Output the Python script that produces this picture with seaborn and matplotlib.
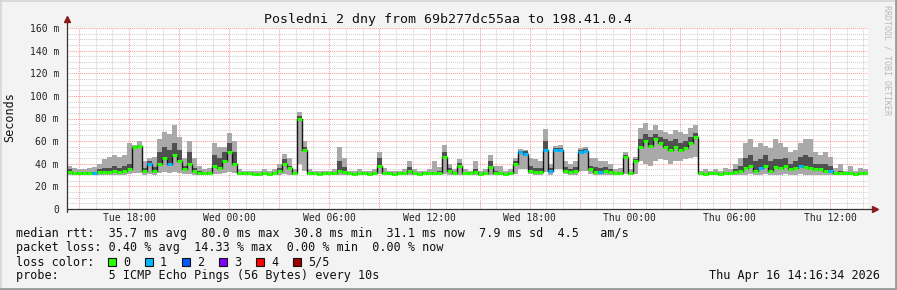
import numpy as np
import pandas as pd
import matplotlib
matplotlib.use("Agg")
import matplotlib.pyplot as plt
import matplotlib.dates as mdates
from matplotlib.ticker import MultipleLocator, FuncFormatter
from matplotlib.lines import Line2D
from matplotlib.patches import Rectangle
import seaborn as sns

# ---------------- data ----------------
title = "Posledni 2 dny from 69b277dc55aa to 198.41.0.4"
period_start = "2026-04-14 14:16:34"
period_end = "2026-04-16 14:16:34"

median_ms = [
    33, 32, 32, 32, 32, 32, 33, 33, 33, 34,
    33, 34, 35, 55, 56, 34, 40, 34, 40, 45,
    40, 48, 42, 35, 40, 34, 32, 32, 32, 38,
    36, 42, 50, 40, 32, 32, 32, 31, 31, 32,
    31, 32, 34, 40, 36, 32, 80, 52, 32, 32,
    31, 32, 32, 32, 34, 33, 32, 31, 32, 32,
    31, 32, 38, 32, 32, 31, 32, 32, 34, 32,
    31, 32, 32, 32, 32, 46, 34, 32, 38, 32,
    32, 33, 31, 32, 37, 32, 32, 31, 32, 40,
    50, 49, 34, 33, 33, 52, 34, 52, 52, 34,
    33, 34, 50, 51, 35, 33, 33, 34, 33, 32,
    32, 46, 32, 42, 55, 60, 56, 62, 58, 55,
    52, 55, 52, 54, 58, 64, 32, 31, 32, 32,
    31, 32, 32, 33, 34, 36, 38, 34, 36, 38,
    34, 37, 36, 38, 35, 36, 38, 37, 36, 35,
    35, 34, 34, 32, 32, 32, 32, 31, 32, 32,
]
smoke_dark_top = [
    35, 33, 33, 33, 33, 33, 35, 36, 36, 38,
    36, 38, 40, 55, 56, 36, 42, 37, 50, 55,
    52, 58, 52, 38, 50, 36, 34, 33, 33, 48,
    45, 50, 58, 50, 33, 33, 33, 32, 32, 33,
    32, 33, 36, 44, 38, 33, 82, 55, 33, 33,
    32, 33, 33, 33, 42, 37, 33, 32, 33, 33,
    32, 33, 45, 33, 33, 32, 33, 33, 37, 33,
    32, 33, 33, 33, 34, 50, 36, 33, 41, 33,
    33, 35, 32, 33, 42, 34, 33, 32, 33, 42,
    51, 51, 38, 36, 36, 60, 36, 54, 54, 37,
    35, 37, 52, 53, 38, 37, 36, 37, 35, 33,
    33, 48, 33, 44, 62, 66, 64, 66, 64, 62,
    60, 62, 58, 60, 64, 67, 33, 32, 33, 33,
    32, 33, 33, 35, 38, 45, 48, 42, 44, 48,
    42, 44, 44, 45, 40, 42, 46, 48, 46, 40,
    40, 40, 38, 33, 34, 33, 33, 32, 33, 33,
]
smoke_top = [
    38, 36, 35, 35, 36, 37, 40, 44, 46, 48,
    46, 48, 58, 57, 60, 42, 45, 46, 62, 68,
    66, 74, 64, 45, 60, 45, 38, 35, 36, 58,
    55, 55, 67, 60, 35, 34, 34, 34, 34, 35,
    34, 35, 40, 49, 45, 35, 86, 60, 35, 34,
    34, 34, 34, 35, 55, 45, 34, 34, 35, 34,
    34, 35, 50, 36, 34, 34, 34, 35, 42, 35,
    34, 34, 35, 42, 37, 57, 40, 35, 44, 35,
    34, 42, 34, 35, 48, 38, 38, 34, 35, 45,
    53, 52, 45, 44, 42, 71, 40, 56, 57, 42,
    40, 42, 54, 55, 45, 45, 42, 42, 40, 35,
    36, 50, 35, 46, 72, 76, 70, 74, 70, 68,
    66, 70, 68, 66, 72, 74, 34, 35, 34, 35,
    34, 36, 35, 40, 45, 58, 62, 55, 58, 56,
    54, 62, 58, 55, 50, 52, 58, 62, 62, 50,
    48, 50, 46, 36, 40, 34, 38, 34, 36, 35,
]
smoke_bottom = [
    30, 30, 30, 30, 30, 30, 30, 30, 30, 30,
    30, 30, 31, 32, 32, 30, 31, 30, 32, 33,
    32, 33, 32, 31, 31, 30, 30, 30, 30, 31,
    31, 32, 33, 32, 30, 30, 30, 30, 30, 30,
    30, 30, 30, 31, 30, 30, 40, 34, 30, 30,
    30, 30, 30, 30, 30, 30, 30, 30, 30, 30,
    30, 30, 31, 30, 30, 30, 30, 30, 30, 30,
    30, 30, 30, 30, 30, 31, 30, 30, 30, 30,
    30, 30, 30, 30, 30, 30, 30, 30, 30, 31,
    35, 35, 31, 30, 30, 33, 30, 35, 35, 31,
    30, 30, 34, 34, 31, 30, 30, 30, 30, 30,
    30, 31, 30, 31, 42, 40, 38, 42, 44, 43,
    40, 42, 42, 44, 45, 46, 30, 30, 30, 30,
    30, 30, 30, 30, 30, 30, 31, 30, 30, 31,
    30, 30, 30, 31, 30, 30, 31, 30, 30, 30,
    30, 30, 30, 30, 30, 30, 30, 30, 30, 30,
]
lost_pings = [
    0, 0, 0, 0, 0, 1, 0, 0, 0, 0, 0, 0, 0, 0, 0, 0, 1, 0, 0, 0,
    1, 0, 0, 0, 0, 0, 0, 0, 0, 0, 0, 0, 0, 0, 0, 0, 0, 0, 0, 0,
    0, 0, 0, 0, 0, 0, 0, 0, 0, 0, 0, 0, 0, 0, 0, 0, 0, 0, 0, 0,
    0, 0, 0, 0, 0, 0, 0, 0, 0, 0, 0, 0, 0, 0, 0, 0, 0, 0, 0, 0,
    0, 0, 0, 0, 0, 0, 0, 0, 0, 0, 1, 1, 0, 0, 0, 1, 1, 1, 1, 0,
    0, 0, 1, 1, 0, 0, 1, 0, 0, 0, 0, 0, 0, 0, 0, 0, 0, 0, 0, 0,
    0, 0, 0, 0, 0, 0, 0, 0, 0, 0, 0, 0, 0, 0, 0, 0, 0, 0, 1, 0,
    0, 0, 0, 0, 0, 0, 1, 0, 0, 0, 0, 0, 1, 0, 0, 0, 0, 0, 0, 0,
]
loss_labels = ["0", "1", "2", "3", "4", "5/5"]
loss_colors = ["#26ff00", "#00b8ff", "#0059ff", "#7e00ff", "#ff0000", "#a10000"]

stats_line1 = "median rtt:  35.7 ms avg  80.0 ms max  30.8 ms min  31.1 ms now  7.9 ms sd  4.5   am/s"
stats_line2 = "packet loss: 0.40 % avg  14.33 % max  0.00 % min  0.00 % now"
loss_line = "loss color:"
probe_line = "probe:       5 ICMP Echo Pings (56 Bytes) every 10s"
stamp = "Thu Apr 16 14:16:34 2026"
watermark = "RRDTOOL / TOBI OETIKER"
ylabel = "Seconds"

# ---------------- figure ----------------
sns.set_theme(style="white")
plt.rcParams["font.family"] = ["DejaVu Sans Mono", "DejaVu Sans"]

W, H = 897, 290
fig = plt.figure(figsize=(W / 100, H / 100), dpi=100, facecolor="#f3f3f3")
ax = fig.add_axes([67 / W, 81 / H, 801 / W, 181 / H])
ax.set_facecolor("white")

edges = pd.date_range(period_start, period_end, periods=len(median_ms) + 1)
t0 = edges[:-1].to_pydatetime()
t1 = edges[1:].to_pydatetime()
tx = edges.to_pydatetime()


def ext(a):
    return list(a) + [a[-1]]


ax.fill_between(tx, ext(smoke_bottom), ext(smoke_top), step="post",
                color="#a9a9a9", lw=0, zorder=2)
ax.fill_between(tx, ext(median_ms), ext(smoke_dark_top), step="post",
                color="#505050", lw=0, zorder=3)
sns.lineplot(x=tx, y=ext(median_ms), drawstyle="steps-post", color="#151515",
             lw=1.0, ax=ax, zorder=4, estimator=None)
ax.hlines(median_ms, t0, t1, colors=[loss_colors[k] for k in lost_pings],
          lw=2.2, zorder=5)

ax.set_xlim(tx[0], tx[-1])
ax.set_ylim(0, 160)

ax.xaxis.set_major_locator(mdates.HourLocator(byhour=range(0, 24, 3)))
ax.xaxis.set_minor_locator(mdates.HourLocator())


def xfmt(v, pos):
    d = mdates.num2date(v)
    return d.strftime("%a %H:%M") if d.hour % 6 == 0 else ""


ax.xaxis.set_major_formatter(FuncFormatter(xfmt))
ax.yaxis.set_major_locator(MultipleLocator(20))
ax.yaxis.set_minor_locator(MultipleLocator(5))
ax.yaxis.set_major_formatter(FuncFormatter(lambda v, p: "0" if v == 0 else f"{int(v)} m"))

ax.set_axisbelow(True)
ax.grid(which="major", color="#ff9a9a", ls=(0, (1, 1)), lw=0.75)
ax.grid(which="minor", color="#cfcfcf", ls=(0, (1, 1)), lw=0.75)
for s in ax.spines.values():
    s.set_visible(False)

ax.tick_params(axis="both", which="major", length=2, width=0.7, color="#e08080",
               labelsize=7.05, labelcolor="#222222")
ax.tick_params(axis="x", which="major", pad=1.2)
ax.tick_params(axis="y", which="major", pad=3.8)
ax.tick_params(axis="both", which="minor", length=0)
ax.set_xlabel("")
ax.set_ylabel("")

# axis lines with arrows
ax.plot([0, 0], [-0.015, 1 + 9 / 181], transform=ax.transAxes, color="#333333",
        lw=0.9, clip_on=False, zorder=6)
ax.plot([0, 1 + 7 / 801], [0, 0], transform=ax.transAxes, color="#333333",
        lw=0.9, clip_on=False, zorder=6)
ax.plot([0], [1 + 9 / 181], transform=ax.transAxes, marker="^", ms=4.2,
        color="#8b1a1a", clip_on=False, zorder=7)
ax.plot([1 + 7 / 801], [0], transform=ax.transAxes, marker=">", ms=4.2,
        color="#8b1a1a", clip_on=False, zorder=7)

# texts
fs = 8.45
fig.text(448 / W, 1 - 19 / H, title, ha="center", va="center", fontsize=9.5, color="#111111")
fig.text(10 / W, 1 - 117 / H, ylabel, rotation=90, ha="center", va="center",
         fontsize=fs, color="#111111")
fig.text(887 / W, 1 - 60 / H, watermark, rotation=270, ha="center", va="center",
         fontsize=6.0, color="#b8b8b8")

fig.text(16 / W, 1 - 233 / H, stats_line1, ha="left", va="center", fontsize=fs, color="#111111")
fig.text(16 / W, 1 - 248 / H, stats_line2, ha="left", va="center", fontsize=fs, color="#111111")
fig.text(16 / W, 1 - 262 / H, loss_line, ha="left", va="center", fontsize=fs, color="#111111")
fig.text(16 / W, 1 - 276 / H, probe_line, ha="left", va="center", fontsize=fs, color="#111111")
fig.text(880 / W, 1 - 276 / H, stamp, ha="right", va="center", fontsize=fs, color="#111111")

box_x = [108, 145, 182, 219, 256, 293]
for bx, lab, col in zip(box_x, loss_labels, loss_colors):
    fig.patches.append(Rectangle((bx / W, 1 - 266 / H), 8 / W, 8 / H,
                                 transform=fig.transFigure, facecolor=col,
                                 edgecolor="#111111", lw=0.8))
    fig.text((bx + 15) / W, 1 - 262 / H, lab, ha="left", va="center", fontsize=fs, color="#111111")

# frame
fig.add_artist(Line2D([0, 1], [1 - 0.5 / H, 1 - 0.5 / H], color="#d6d6d6", lw=1.2))
fig.add_artist(Line2D([0.5 / W, 0.5 / W], [0, 1], color="#d6d6d6", lw=1.2))
fig.add_artist(Line2D([0, 1], [1.2 / H, 1.2 / H], color="#9a9a9a", lw=2.0))
fig.add_artist(Line2D([1 - 1.2 / W, 1 - 1.2 / W], [0, 1], color="#9a9a9a", lw=2.0))

fig.savefig("out.png", dpi=100, facecolor=fig.get_facecolor())
